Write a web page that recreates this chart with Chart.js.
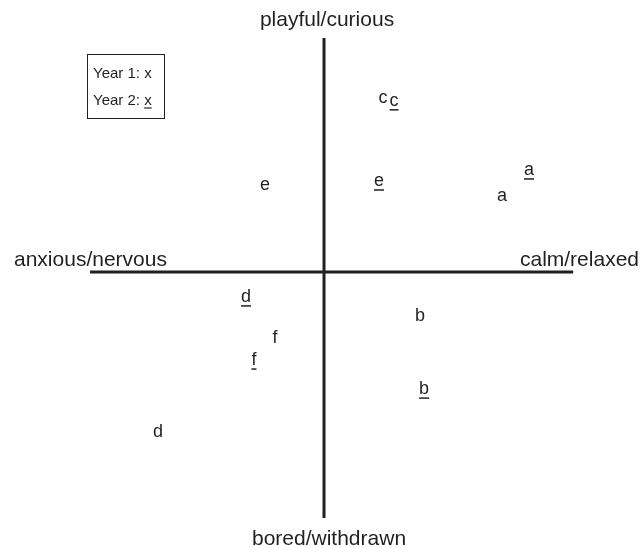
<!DOCTYPE html>
<html>
<head>
<meta charset="utf-8">
<script src="https://cdn.jsdelivr.net/npm/chart.js@4"></script>
<style>
  html, body { margin: 0; padding: 0; background: #fff; }
  #wrap { width: 643px; height: 548px; }
</style>
</head>
<body>
<div id="wrap"><canvas id="chart-canvas" width="643" height="548"></canvas></div>
<script>
// letters for each subject, year 1 plain, year 2 underlined
const categories = ['a', 'b', 'c', 'd', 'e', 'f'];
const year1X = [7.42, 4.0, 2.46, -6.92, -2.46, -2.04];
const year1Y = [3.17, -1.83, 7.25, -6.67, 3.63, -2.75];
const year2X = [8.54, 4.17, 2.92, -3.25, 2.29, -2.92];
const year2Y = [4.25, -4.88, 7.13, -1.04, 3.79, -3.67];

// axis extents and the four pole names
const axisXRange = [-9.75, 10.38];
const axisYRange = [-10.25, 9.75];
const axisNames = ['playful/curious', 'bored/withdrawn', 'anxious/nervous', 'calm/relaxed'];
const legendLabels = ['Year 1: ', 'Year 2: '];
const legendMark = 'x';

const ink = '#231f20';
const fontFam = '"Liberation Sans", Arial, Helvetica, sans-serif';

function toPoints(xs, ys) {
  return xs.map((x, i) => ({ x: x, y: ys[i] }));
}

// draws the letters on top of invisible points
const letterPlugin = {
  id: 'letters',
  afterDatasetsDraw(chart) {
    const ctx = chart.ctx;
    ctx.save();
    ctx.font = '18px ' + fontFam;
    ctx.fillStyle = ink;
    ctx.strokeStyle = ink;
    ctx.textAlign = 'center';
    ctx.textBaseline = 'middle';
    chart.data.datasets.forEach((ds, di) => {
      if (!ds.letters) return;
      const meta = chart.getDatasetMeta(di);
      meta.data.forEach((pt, i) => {
        const txt = ds.letters[i];
        ctx.fillText(txt, pt.x, pt.y);
        if (ds.underline) {
          const w = ctx.measureText(txt).width;
          ctx.lineWidth = 1.5;
          ctx.beginPath();
          ctx.moveTo(pt.x - w / 2, pt.y + 9);
          ctx.lineTo(pt.x + w / 2, pt.y + 9);
          ctx.stroke();
        }
      });
    });
    ctx.restore();
  }
};

// pole names at the ends of the axes
const poleNamePlugin = {
  id: 'poleNames',
  afterDraw(chart) {
    const ctx = chart.ctx;
    const xs = chart.scales.x, ys = chart.scales.y;
    const x0 = xs.getPixelForValue(0);
    const y0 = ys.getPixelForValue(0);
    ctx.save();
    ctx.font = '21px ' + fontFam;
    ctx.fillStyle = ink;
    ctx.textBaseline = 'alphabetic';
    ctx.textAlign = 'center';
    ctx.fillText(axisNames[0], x0 + 3, ys.getPixelForValue(axisYRange[1]) - 12);
    ctx.fillText(axisNames[1], x0 + 5, ys.getPixelForValue(axisYRange[0]) + 27);
    ctx.textAlign = 'left';
    ctx.fillText(axisNames[2], chart.chartArea.left + 14, y0 - 6);
    ctx.textAlign = 'right';
    ctx.fillText(axisNames[3], chart.chartArea.right - 4, y0 - 6);
    ctx.restore();
  }
};

// small boxed key in the upper left
const keyPlugin = {
  id: 'keyBox',
  afterDraw(chart) {
    const ctx = chart.ctx;
    const left = chart.chartArea.left + 87, top = chart.chartArea.top + 54;
    ctx.save();
    ctx.strokeStyle = ink;
    ctx.lineWidth = 1;
    ctx.strokeRect(left + 0.5, top + 0.5, 77, 64);
    ctx.font = '15px ' + fontFam;
    ctx.fillStyle = ink;
    ctx.textAlign = 'left';
    ctx.textBaseline = 'alphabetic';
    legendLabels.forEach((lab, i) => {
      const by = top + 24 + i * 27;
      ctx.fillText(lab + legendMark, left + 6, by);
      if (i === 1) {
        const w0 = ctx.measureText(lab).width;
        const w1 = ctx.measureText(legendMark).width;
        ctx.lineWidth = 1.2;
        ctx.beginPath();
        ctx.moveTo(left + 6 + w0, by + 3);
        ctx.lineTo(left + 6 + w0 + w1, by + 3);
        ctx.stroke();
      }
    });
    ctx.restore();
  }
};

const canvas = document.getElementById('chart-canvas');
new Chart(canvas.getContext('2d'), {
  type: 'scatter',
  data: {
    datasets: [
      {
        label: 'horizontal axis',
        data: toPoints(axisXRange, [0, 0]),
        showLine: true,
        borderColor: ink,
        borderWidth: 3,
        pointRadius: 0
      },
      {
        label: 'vertical axis',
        data: toPoints([0, 0], axisYRange),
        showLine: true,
        borderColor: ink,
        borderWidth: 3,
        pointRadius: 0
      },
      {
        label: 'Year 1',
        data: toPoints(year1X, year1Y),
        letters: categories,
        underline: false,
        pointRadius: 0
      },
      {
        label: 'Year 2',
        data: toPoints(year2X, year2Y),
        letters: categories,
        underline: true,
        pointRadius: 0
      }
    ]
  },
  options: {
    responsive: false,
    animation: false,
    layout: { padding: 0 },
    scales: {
      x: { type: 'linear', display: false, min: -13.5, max: 13.29 },
      y: { type: 'linear', display: false, min: -11.5, max: 11.33 }
    },
    plugins: {
      legend: { display: false },
      tooltip: { enabled: false }
    }
  },
  plugins: [letterPlugin, poleNamePlugin, keyPlugin]
});
</script>
</body>
</html>
